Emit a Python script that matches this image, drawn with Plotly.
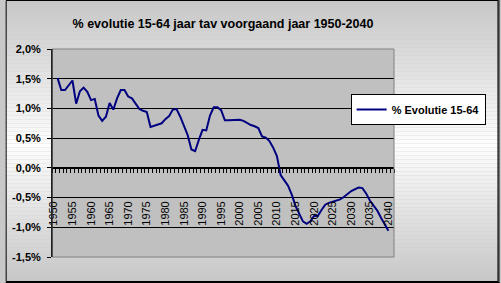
import plotly.graph_objects as go

years = list(range(1951, 2041))
evolutie = [
    1.51, 1.31, 1.31, 1.39, 1.47, 1.08, 1.29, 1.35, 1.28, 1.14,  # 1951-1960
    1.16, 0.88, 0.79, 0.86, 1.09, 0.98, 1.17, 1.31, 1.31, 1.20,  # 1961-1970
    1.17, 1.08, 0.99, 0.96, 0.94, 0.69, 0.71, 0.73, 0.75, 0.82,  # 1971-1980
    0.87, 0.98, 0.99, 0.86, 0.72, 0.55, 0.31, 0.28, 0.47, 0.64,  # 1981-1990
    0.63, 0.88, 1.02, 1.02, 0.97, 0.80, 0.80, 0.80, 0.80, 0.81,  # 1991-2000
    0.79, 0.75, 0.72, 0.70, 0.67, 0.53, 0.51, 0.45, 0.34, 0.20,  # 2001-2010
    -0.12, -0.21, -0.30, -0.45, -0.64, -0.77, -0.90, -0.94, -0.90, -0.81,  # 2011-2020
    -0.81, -0.71, -0.62, -0.59, -0.57, -0.56, -0.53, -0.49, -0.44, -0.39,  # 2021-2030
    -0.36, -0.33, -0.34, -0.43, -0.55, -0.64, -0.72, -0.84, -0.94, -1.06,  # 2031-2040
]
x_categories = list(range(1950, 2042))  # category slots on the axis
x_tick_years = list(range(1950, 2041, 5))
x_tick_labels = [str(y) for y in x_tick_years]
y_tick_vals = [-1.5, -1.0, -0.5, 0.0, 0.5, 1.0, 1.5, 2.0]
y_tick_labels = ["-1,5%", "-1,0%", "-0,5%", "0,0%", "0,5%", "1,0%", "1,5%", "2,0%"]
series_name = "% Evolutie 15-64"
title_text = "% evolutie 15-64 jaar tav voorgaand jaar 1950-2040"

W, H = 501, 283
L, R, T, B = 47, 107, 49, 26
PW, PH = W - L - R, H - T - B

def px(x):
    return (x - L) / PW

def py(y):
    return (H - B - y) / PH

FONT = "Liberation Sans, Arial, sans-serif"

fig = go.Figure()
fig.add_trace(go.Scatter(
    x=years, y=evolutie, mode="lines", name=series_name,
    line=dict(color="#000080", width=2),
))

shapes = []
# background vertical gradient: gray top -> white middle -> gray bottom
n = 71
mid = 145.0
for i in range(n):
    y0 = i * H / n
    y1 = (i + 1) * H / n
    yc = (y0 + y1) / 2
    if yc < mid:
        t = yc / mid
    else:
        t = (H - yc) / (H - mid)
    t = max(0.0, min(1.0, t))
    g = int(round(198 + (253 - 198) * t))
    col = f"rgb({g},{g},{g})"
    shapes.append(dict(type="rect", xref="paper", yref="paper",
                       x0=px(0), x1=px(W), y0=py(y1), y1=py(y0),
                       fillcolor=col, line=dict(width=0), layer="below"))
# plot area
shapes.append(dict(type="rect", xref="paper", yref="paper", x0=0, x1=1, y0=0, y1=1,
                   fillcolor="#c0c0c0", line=dict(width=0), layer="below"))
# plot border (gray)
shapes.append(dict(type="rect", xref="paper", yref="paper", x0=0, x1=1, y0=0, y1=1,
                   fillcolor="rgba(0,0,0,0)", line=dict(color="#808080", width=1), layer="above"))
# left axis line re-drawn black over the gray border
shapes.append(dict(type="line", xref="paper", yref="paper", x0=0, x1=0, y0=0, y1=1,
                   line=dict(color="black", width=1), layer="above"))
# outer black border
shapes.append(dict(type="rect", xref="paper", yref="paper",
                   x0=px(0.5), x1=px(W - 1.5), y0=py(H - 1.5), y1=py(0.5),
                   fillcolor="rgba(0,0,0,0)", line=dict(color="black", width=1), layer="above"))
shapes.append(dict(type="line", xref="paper", yref="paper",
                   x0=px(W - 0.5), x1=px(W - 0.5), y0=py(H), y1=py(0),
                   line=dict(color="black", width=1), layer="above"))
shapes.append(dict(type="line", xref="paper", yref="paper",
                   x0=px(0), x1=px(W), y0=py(H - 0.5), y1=py(H - 0.5),
                   line=dict(color="black", width=1), layer="above"))

fig.update_layout(
    width=W, height=H,
    margin=dict(l=L, r=R, t=T, b=B, pad=0),
    paper_bgcolor="#c8c8c8",
    plot_bgcolor="rgba(0,0,0,0)",
    shapes=shapes,
    title=dict(text=title_text, x=0.5, xref="paper", xanchor="center",
               y=1 - 24 / H, yanchor="middle",
               font=dict(family=FONT, size=12.5, color="black", weight="bold")),
    showlegend=True,
    legend=dict(x=px(350), y=py(94), xanchor="left", yanchor="top",
                bgcolor="white", bordercolor="black", borderwidth=1,
                font=dict(family=FONT, size=11, color="black", weight="bold"),
                itemwidth=30, tracegroupgap=0),
    xaxis=dict(
        range=[x_categories[0] - 0.5, x_categories[-1] + 0.5],
        anchor="free", position=1.5 / 3.5,
        showgrid=False, zeroline=False,
        showline=True, linecolor="black", linewidth=1,
        tickmode="array", tickvals=x_tick_years, ticktext=x_tick_labels,
        tickangle=-90, ticks="", ticklabelstandoff=28,
        tickfont=dict(family=FONT, size=11, color="black"),
        minor=dict(ticks="outside", ticklen=4, tickcolor="black",
                   tick0=x_categories[0] - 0.5, dtick=1, showgrid=False),
    ),
    yaxis=dict(
        range=[-1.5, 2.0], showgrid=True, gridcolor="black", gridwidth=1,
        zeroline=False, showline=True, linecolor="black", linewidth=1,
        tickmode="array", tickvals=y_tick_vals, ticktext=y_tick_labels,
        ticks="outside", ticklen=4, tickcolor="black", ticklabelstandoff=4,
        tickfont=dict(family=FONT, size=11, color="black", weight="bold"),
    ),
)

fig.write_html("out.html")
